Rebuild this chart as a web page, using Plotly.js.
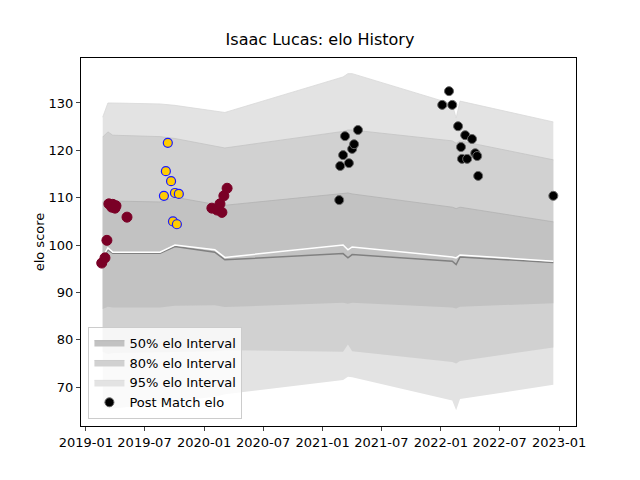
<!DOCTYPE html>
<html>
<head>
<script src="https://cdn.plot.ly/plotly-3.0.1.min.js"></script>
<style>body{margin:0;} #chart{width:640px;height:480px;}</style>
</head>
<body>
<div id="chart"></div>
<script>
// band dates and interval edges
var band_dates = ['2019-02-22','2019-03-10','2019-03-25','2019-08-18','2019-10-03','2020-02-03','2020-03-05',
	'2021-03-05','2021-03-20','2021-04-02','2022-02-05','2022-02-17','2022-03-01','2022-12-14'];
var upper95 = [127, 130, 130, 129.8, 129.5, 128.2, 128, 135.5, 136.2, 136.2, 129.8, 126.8, 130.4, 126];
var lower95 = [66, 65.5, 65.5, 66.5, 67, 68, 68.5, 71.5, 72.2, 72.1, 67.2, 65.1, 67.5, 70.5];
var upper80 = [122.8, 123.9, 123.2, 122.9, 122.5, 120.8, 120.5, 124.0, 124.3, 124.3, 122, 121.5, 122, 118];
var lower80 = [77.5, 77, 77.2, 77.4, 77.4, 77.6, 77.8, 77.5, 79, 77.6, 75.3, 75.0, 75.5, 78.4];
var upper50 = [109.1, 109.5, 109.3, 109.1, 110.1, 108.6, 108.4, 110.8, 111, 110.8, 108, 107.7, 108, 104.9];
var lower50 = [86.5, 87, 86.8, 86.8, 87.2, 87.3, 86.9, 87.8, 87.6, 87.8, 86.8, 86.6, 87, 87.7];
var mean_elo = [97.5, 99.4, 98.5, 98.5, 100, 99, 97.4, 100, 99, 99.6, 97.5, 97.3, 97.9, 96.6];
var median_elo = [97, 99, 98.3, 98.3, 99.7, 98.5, 96.9, 98.2, 97.3, 98.0, 96.6, 95.9, 97.5, 96.3];

// post match elo points
var red_dates = ['2019-02-19','2019-03-01','2019-03-07','2019-03-13','2019-03-22','2019-03-25','2019-04-01','2019-04-04','2019-05-08',
	'2020-01-25','2020-02-10','2020-02-19','2020-02-25','2020-03-02','2020-03-12'];
var red_elo = [96.2, 97.3, 101, 108.7, 108, 108.6, 107.8, 108.3, 105.9, 107.8, 107.4, 108.7, 106.9, 110.4, 112];
var yellow_dates = ['2019-08-30','2019-09-05','2019-09-11','2019-09-21','2019-09-27','2019-10-03','2019-10-09','2019-10-15'];
var yellow_elo = [110.4, 115.6, 121.6, 113.5, 105, 111, 104.4, 110.8];
var black_dates = ['2021-02-21','2021-02-24','2021-03-05','2021-03-11','2021-03-23','2021-04-02','2021-04-08','2021-04-20',
	'2022-01-05','2022-01-26','2022-02-05','2022-02-23','2022-03-04','2022-03-07','2022-03-17','2022-03-23','2022-04-07','2022-04-17','2022-04-23','2022-04-26','2022-12-14'];
var black_elo = [109.5, 116.7, 119, 123, 117.3, 120.3, 121.3, 124.3,
	129.6, 132.5, 129.6, 125.1, 120.7, 118.2, 123.2, 118.2, 122.4, 119.4, 118.8, 114.6, 110.4];

function band(lo, hi, color, edge, name, rank){
	return [
		{x: band_dates, y: lo, mode: 'lines', line: {width: 0}, showlegend: false, hoverinfo: 'skip'},
		{x: band_dates, y: hi, mode: 'lines', line: {width: 0.8, color: edge}, fill: 'tonexty', fillcolor: color,
			name: name, legendrank: rank}
	];
}
var data = [].concat(
	band(lower95, upper95, '#e3e3e3', '#d8d8d8', '95% elo Interval', 3),
	band(lower80, upper80, '#d1d1d1', '#c4c4c4', '80% elo Interval', 2),
	band(lower50, upper50, '#c2c2c2', '#b2b2b2', '50% elo Interval', 1),
	[
		{x: band_dates, y: median_elo, mode: 'lines', line: {color: '#808080', width: 1.5}, showlegend: false},
		{x: band_dates, y: mean_elo, mode: 'lines', line: {color: '#ffffff', width: 1.5}, showlegend: false},
		{x: red_dates, y: red_elo, mode: 'markers', marker: {color: '#7a0026', size: 10, line: {color: '#7a0026', width: 1}}, showlegend: false},
		{x: yellow_dates, y: yellow_elo, mode: 'markers', marker: {color: '#ffcc00', size: 9, line: {color: '#1a1aff', width: 1.2}}, showlegend: false},
		{x: black_dates, y: black_elo, mode: 'markers', marker: {color: '#000000', size: 9, line: {color: '#666666', width: 1}},
			name: 'Post Match elo', legendrank: 4}
	]
);

var layout = {
	width: 640, height: 480,
	margin: {l: 81, r: 64, t: 58, b: 54},
	paper_bgcolor: '#ffffff', plot_bgcolor: '#ffffff',
	font: {family: 'DejaVu Sans', size: 13, color: '#000'},
	title: {text: 'Isaac Lucas: elo History', font: {size: 16}, x: 0.5, y: 0.93, xanchor: 'center'},
	xaxis: {type: 'date', range: ['2018-12-17', '2023-02-22'], dtick: 'M6', tick0: '2019-01-01', tickformat: '%Y-%m',
		showgrid: false, showline: true, mirror: true, linecolor: '#000', ticks: 'outside', ticklen: 4, zeroline: false},
	yaxis: {title: {text: 'elo score', font: {size: 13}}, range: [61.8, 139.5], dtick: 10, showgrid: false, showline: true, mirror: true,
		linecolor: '#000', ticks: 'outside', ticklen: 4, zeroline: false},
	legend: {x: 0.015, y: 0.02, xanchor: 'left', yanchor: 'bottom', bgcolor: 'rgba(255,255,255,0.8)', traceorder: 'normal',
		bordercolor: '#cccccc', borderwidth: 1, font: {size: 13}},
	showlegend: true
};
Plotly.newPlot('chart', data, layout, {displayModeBar: false});
</script>
</body>
</html>
